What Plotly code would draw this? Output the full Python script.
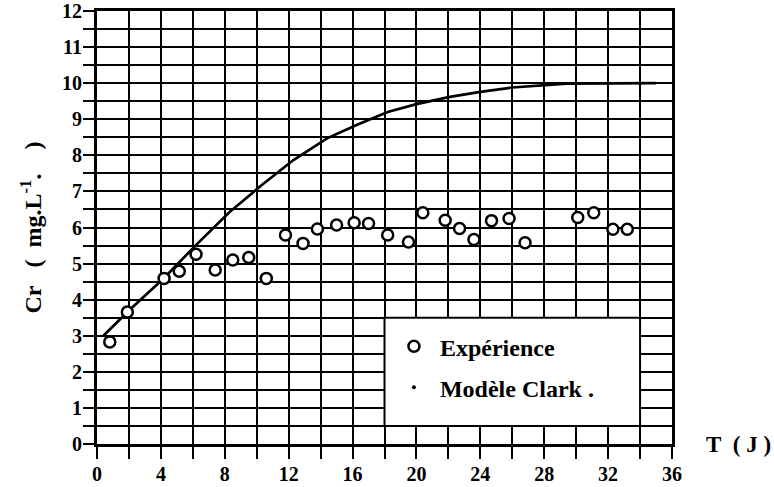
import plotly.graph_objects as go

# Experimental data (T in days, Cr in mg/L)
exp_t = [0.8, 1.9, 4.2, 5.15, 6.2, 7.4, 8.5, 9.5, 10.6, 11.8, 12.9, 13.8, 15.0,
         16.1, 17.0, 18.2, 19.5, 20.4, 21.8, 22.7, 23.6, 24.7, 25.8, 26.8,
         30.1, 31.1, 32.3, 33.2]
exp_cr = [2.83, 3.66, 4.59, 4.79, 5.26, 4.82, 5.10, 5.17, 4.59, 5.79, 5.56, 5.96, 6.07,
          6.13, 6.11, 5.79, 5.60, 6.41, 6.20, 5.97, 5.67, 6.19, 6.25, 5.58,
          6.28, 6.41, 5.95, 5.95]

# Clark model curve
model_t = [0.4, 2.0, 4.2, 6.1, 8.3, 10.3, 12.3, 14.4, 16.25, 18.2, 20.0, 22.1, 24.0, 26.0, 29.4, 32.0, 35.0]
model_cr = [3.0, 3.70, 4.60, 5.47, 6.43, 7.17, 7.87, 8.47, 8.84, 9.20, 9.42, 9.62, 9.76, 9.88, 9.99, 10.0, 10.0]

x_ticks = [0, 4, 8, 12, 16, 20, 24, 28, 32, 36]
y_ticks = list(range(0, 13))

FONT = "Liberation Serif"
NB = "\u00a0"

fig = go.Figure()

fig.add_trace(go.Scatter(
    x=model_t, y=model_cr, mode="lines",
    line=dict(color="black", width=2.7),
    showlegend=False, name="Modèle Clark .",
))
fig.add_trace(go.Scatter(
    x=exp_t, y=exp_cr, mode="markers", name="Expérience",
    legendgroup="exp",
    marker=dict(symbol="circle", size=11, color="white",
                line=dict(color="black", width=2.5)),
))
# legend entry for the model (dot symbol as in the original)
fig.add_trace(go.Scatter(
    x=[None], y=[None], mode="markers", name="Modèle Clark .",
    legendgroup="model",
    marker=dict(symbol="circle", size=4, color="black"),
))

axis_common = dict(
    showline=True, linecolor="black", linewidth=3, mirror=True,
    showgrid=True, gridcolor="black", gridwidth=2,
    ticks="outside", tickcolor="black", tickwidth=2,
    zeroline=False, automargin=False,
    tickfont=dict(family=FONT, size=20, color="black", weight="bold"),
)

fig.update_xaxes(
    range=[0, 36], tickvals=x_ticks, ticklen=12, ticklabelstandoff=-2,
    minor=dict(dtick=2, showgrid=True, gridcolor="black", gridwidth=2,
               ticks="outside", ticklen=12, tickwidth=2, tickcolor="black"),
    **axis_common,
)
fig.update_yaxes(
    range=[0, 12], tickvals=y_ticks, ticklen=11, ticklabelstandoff=-3,
    minor=dict(dtick=0.5, showgrid=True, gridcolor="black", gridwidth=2,
               ticks="outside", ticklen=11, tickwidth=2, tickcolor="black"),
    title=dict(text=NB * 8 + f"Cr{NB}{NB}{NB}({NB}{NB}mg.L<sup>-1</sup>.{NB}{NB}{NB}{NB})",
               standoff=14,
               font=dict(family=FONT, size=24, color="black", weight="bold")),
    **axis_common,
)

# white legend box covering the grid
LEG_X0, LEG_X1, LEG_Y0, LEG_Y1 = 18, 34, 0.5, 3.5
fig.add_shape(type="rect", xref="x", yref="y",
              x0=LEG_X0, x1=LEG_X1, y0=LEG_Y0, y1=LEG_Y1,
              fillcolor="white", line=dict(color="black", width=2), layer="above")

fig.add_annotation(text=f"T{NB}{NB}({NB}J{NB})", xref="paper", yref="paper", x=1.115, y=0,
                   xanchor="center", yanchor="middle", showarrow=False,
                   font=dict(family=FONT, size=23, color="black", weight="bold"))

fig.update_layout(
    width=774, height=487,
    margin=dict(l=97, r=102, t=11, b=43, autoexpand=False),
    paper_bgcolor="white", plot_bgcolor="white",
    legend=dict(x=0.506, y=0.277, xanchor="left", yanchor="top",
                bgcolor="rgba(0,0,0,0)", borderwidth=0,
                itemwidth=42,
                traceorder="grouped", tracegroupgap=7,
                font=dict(family=FONT, size=24, color="black", weight="bold")),
)

fig.write_html("out.html",
               config={"displayModeBar": False},
               post_script="document.body.style.margin='0';document.body.style.overflow='hidden';")
